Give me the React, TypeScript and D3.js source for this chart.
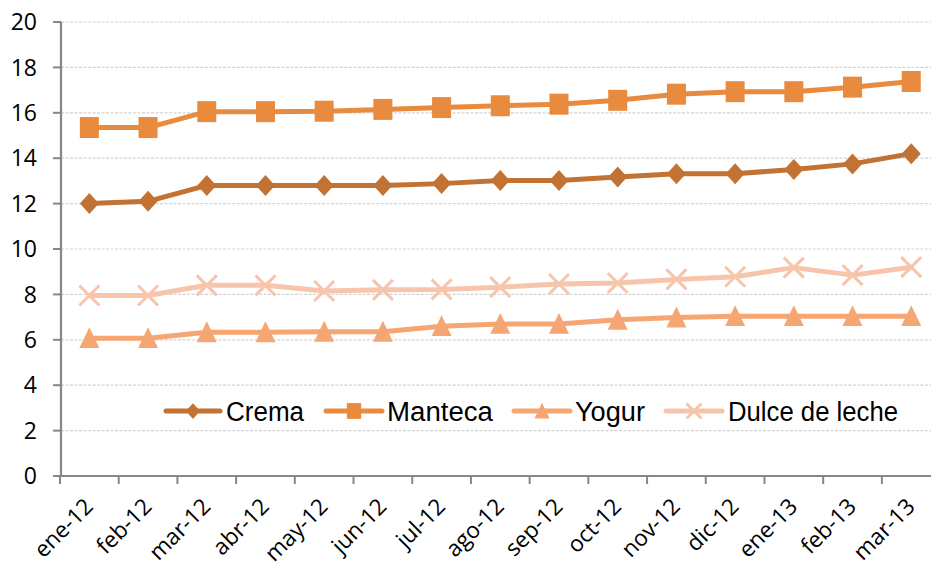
import React from "react";
import * as d3 from "d3";

const categories = ["ene-12","feb-12","mar-12","abr-12","may-12","jun-12","jul-12","ago-12","sep-12","oct-12","nov-12","dic-12","ene-13","feb-13","mar-13"];
const crema = [12.0,12.1,12.8,12.8,12.8,12.8,12.88,13.02,13.02,13.17,13.32,13.32,13.5,13.75,14.2];
const manteca = [15.35,15.35,16.05,16.05,16.07,16.15,16.23,16.31,16.38,16.55,16.82,16.93,16.93,17.13,17.38];
const yogur = [6.07,6.07,6.33,6.33,6.35,6.35,6.6,6.7,6.7,6.88,6.98,7.04,7.04,7.04,7.04];
const dulce = [7.95,7.95,8.4,8.4,8.15,8.2,8.22,8.32,8.46,8.5,8.66,8.78,9.18,8.85,9.2];
const yTicks = [0,2,4,6,8,10,12,14,16,18,20];
const seriesNames = ["Crema","Manteca","Yogur","Dulce de leche"];

const colors = ["#C27232", "#E88B3E", "#F6A672", "#F7C5AB"];
const markers = ["diamond", "square", "triangle", "x"];

function Marker({ type, x, y, color, s = 1 }: { type: string; x: number; y: number; color: string; s?: number }) {
  if (type === "diamond") {
    const w = 9.5 * s, h = 10.5 * s;
    return <path d={`M${x},${y - h}L${x + w},${y}L${x},${y + h}L${x - w},${y}Z`} fill={color} />;
  }
  if (type === "square") {
    const w = 9.5 * s, h = 10.5 * s;
    return <rect x={x - w} y={y - h} width={2 * w} height={2 * h} fill={color} />;
  }
  if (type === "triangle") {
    const w = 10 * s, h = 11 * s;
    return <path d={`M${x},${y - h}L${x + w},${y + h * 0.9}L${x - w},${y + h * 0.9}Z`} fill={color} />;
  }
  const r = 10 * s;
  return (
    <path d={`M${x - r},${y - r}L${x + r},${y + r}M${x - r},${y + r}L${x + r},${y - r}`} stroke={color} strokeWidth={3} fill="none" />
  );
}

export default function App() {
  const W = 931, H = 565;
  const x0 = 61, yTop = 22, yBot = 476;
  const x = d3.scaleBand<string>().domain(categories).range([60, 940.6]);
  const y = d3.scaleLinear().domain([0, 20]).range([yBot, yTop]);
  const cx = (c: string) => (x(c) as number) + x.bandwidth() / 2;
  const allSeries = [crema, manteca, yogur, dulce];
  const line = d3.line<number>().x((_, i) => cx(categories[i])).y((v) => y(v));
  const tickFont = "'Open Sans', 'DejaVu Sans', sans-serif";
  const legendFont = "'Liberation Sans', Arial, sans-serif";
  const legendItems = [
    { lx1: 166, lx2: 220, tx: 226, tl: 78 },
    { lx1: 326, lx2: 382, tx: 387, tl: 106 },
    { lx1: 514, lx2: 570, tx: 575, tl: 70 },
    { lx1: 666, lx2: 722, tx: 728, tl: 170 },
  ];
  const legendY = 411;

  return (
    <svg width={W} height={H} style={{ position: "absolute", left: 0, top: 0, background: "#fff" }}>
      {yTicks.filter((t) => t > 0).map((t) => (
        <line key={t} x1={x0} x2={W} y1={y(t)} y2={y(t)} stroke="#D4D4D4" strokeWidth={1.2} strokeDasharray="3,1.5" />
      ))}
      <line x1={x0} x2={x0} y1={yTop} y2={yBot} stroke="#868686" strokeWidth={2.2} />
      <line x1={x0} x2={W} y1={yBot} y2={yBot} stroke="#868686" strokeWidth={2.2} />
      {yTicks.map((t) => (
        <g key={t}>
          <line x1={53} x2={x0} y1={y(t)} y2={y(t)} stroke="#868686" strokeWidth={2} />
          <text x={37} y={y(t)} dy="0.36em" textAnchor="end" fontFamily={tickFont} fontSize={23} fill="#000">{t}</text>
        </g>
      ))}
      {categories.map((c) => (
        <line key={c} x1={x(c) as number} x2={x(c) as number} y1={yBot} y2={yBot + 8} stroke="#868686" strokeWidth={2} />
      ))}
      {categories.map((c) => (
        <text key={c} transform={`translate(${cx(c) + 5},${yBot + 32}) rotate(-45)`} textAnchor="end" fontFamily={tickFont} fontSize={22.5} fill="#000">{c}</text>
      ))}
      {allSeries.map((s, si) => (
        <g key={si}>
          <path d={line(s) || ""} fill="none" stroke={colors[si]} strokeWidth={5} strokeLinejoin="round" strokeLinecap="round" />
          {s.map((v, i) => (
            <Marker key={i} type={markers[si]} x={cx(categories[i])} y={y(v)} color={colors[si]} />
          ))}
        </g>
      ))}
      {legendItems.map((it, i) => (
        <g key={i}>
          <line x1={it.lx1} x2={it.lx2} y1={legendY} y2={legendY} stroke={colors[i]} strokeWidth={5} strokeLinecap="round" />
          <Marker type={markers[i]} x={(it.lx1 + it.lx2) / 2} y={legendY} color={colors[i]} s={0.75} />
          <text x={it.tx} y={legendY} dy="0.36em" fontFamily={legendFont} fontSize={27} fill="#000" textLength={it.tl} lengthAdjust="spacingAndGlyphs">{seriesNames[i]}</text>
        </g>
      ))}
    </svg>
  );
}
